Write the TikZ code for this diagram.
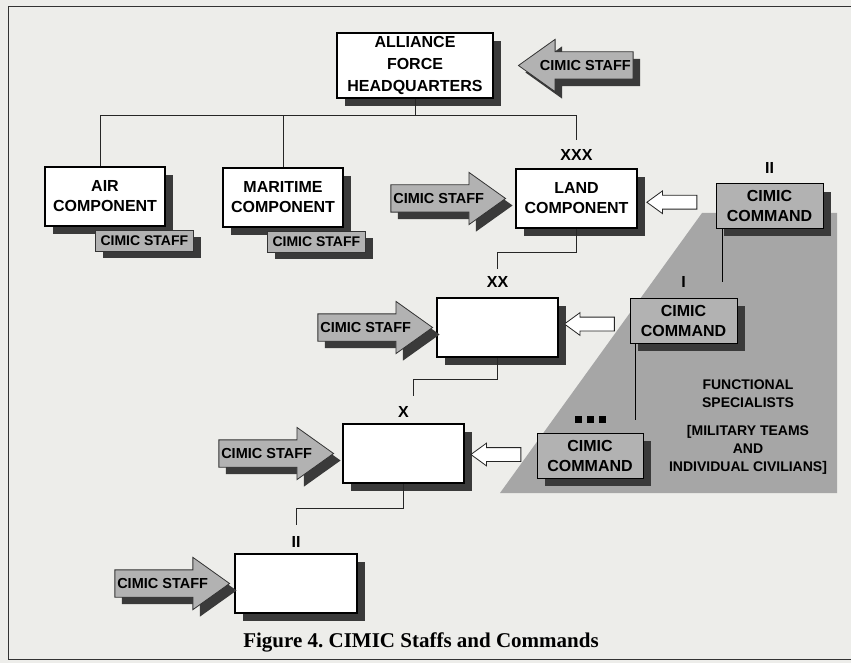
\documentclass[tikz,border=0pt]{standalone}
\usepackage{fontspec}
\setmainfont{Liberation Sans}
\newfontfamily\captionfont{Liberation Serif}
\usetikzlibrary{positioning,calc,shapes.arrows,shadows}
\definecolor{scanpaper}{RGB}{237,237,234}
\definecolor{cimicgray}{RGB}{178,178,178}
\definecolor{fieldgray}{RGB}{166,166,166}
\definecolor{shadowgray}{RGB}{58,58,58}

\begin{document}
\begin{tikzpicture}[x=1pt,y=-1pt,
    unitbox/.style={draw=black,line width=1.5pt,fill=white,minimum width=121pt,
      minimum height=59pt,align=center,inner sep=1pt,
      font=\bfseries\fontsize{16}{20}\selectfont,
      drop shadow={shadow xshift=8pt,shadow yshift=-8pt,fill=shadowgray,opacity=1}},
    cmdbox/.style={unitbox,fill=cimicgray,line width=1pt,minimum width=107pt,minimum height=45pt},
    stafftab/.style={draw=black!80,line width=0.8pt,fill=cimicgray,inner sep=0pt,
      minimum width=98pt,minimum height=21pt,font=\bfseries\fontsize{14}{16}\selectfont,
      drop shadow={shadow xshift=8pt,shadow yshift=-7pt,fill=shadowgray,opacity=1}},
    staffarrow/.style={single arrow,draw=black!80,line width=0.8pt,fill=cimicgray,
      font=\bfseries\fontsize{14.5}{16}\selectfont,text height=10.5pt,text depth=0pt,
      inner xsep=2pt,inner ysep=8pt,single arrow head extend=12.5pt,
      single arrow tip angle=71,
      drop shadow={shadow xshift=7pt,shadow yshift=-7pt,fill=shadowgray,opacity=1}},
    feedarrow/.style={single arrow,shape border rotate=180,draw=black!85,line width=0.8pt,
      fill=white,inner xsep=0pt,inner ysep=6.5pt,text height=0pt,text depth=0pt,
      minimum height=50pt,single arrow head extend=4.5pt,single arrow tip angle=72},
    echelon/.style={font=\bfseries\fontsize{16}{16}\selectfont,inner sep=1pt},
    link/.style={draw=black!85,line width=1pt},
    cmdlink/.style={draw=black,line width=1.8pt}]

  \useasboundingbox (0,0) rectangle (851,663);
  \fill[scanpaper] (0,0) rectangle (851,663);
  \draw[black!80,line width=1pt] (870,7) -- (8,7) -- (8,659) -- (870,659);

  % functional specialists field
  \fill[fieldgray] (702,213) -- (837,213) -- (837,493) -- (500,493) -- cycle;
  \node[align=center,font=\bfseries\fontsize{14}{18}\selectfont] (specialists) at (748,394)
    {FUNCTIONAL\\SPECIALISTS};
  \node[align=center,font=\bfseries\fontsize{14}{18}\selectfont] (teams) at (748,450)
    {[MILITARY TEAMS\\AND\\INDIVIDUAL CIVILIANS]};

  % components
  \node[unitbox,minimum width=156pt,minimum height=65pt,font=\bfseries\fontsize{16}{22}\selectfont]
    (hq) at (415,65.5) {ALLIANCE\\FORCE\\HEADQUARTERS};
  \node[unitbox,minimum width=120pt] (air) at (105,196.5) {AIR\\COMPONENT};
  \node[unitbox,minimum width=120pt] (mar) at (283,197.5) {MARITIME\\COMPONENT};
  \node[unitbox] (land) at (576.5,198.5) {LAND\\COMPONENT};
  \node[unitbox] (div) at (497.5,327.5) {};
  \node[unitbox] (bde) at (403.5,453.5) {};
  \node[unitbox,minimum width=122pt] (bn) at (296,583.5) {};

  \node[stafftab,anchor=north east] (airstaff) at ([xshift=28pt,yshift=-3pt]air.south east) {CIMIC STAFF};
  \node[stafftab,anchor=north east] (marstaff) at ([xshift=22pt,yshift=-3pt]mar.south east) {CIMIC STAFF};

  % cimic commands
  \node[cmdbox,minimum height=44pt] (cc2) at (769.5,206) {CIMIC\\COMMAND};
  \node[cmdbox] (cc1) at (683.5,320.5) {CIMIC\\COMMAND};
  \node[cmdbox,minimum width=106pt] (cc0) at (590,455.5) {CIMIC\\COMMAND};

  % echelons
  \node[echelon,above=7pt of land] (landech) {XXX};
  \node[echelon,above=9pt of div] (divech) {XX};
  \node[echelon,above=5pt of bde] (bdeech) {X};
  \node[echelon,above=5pt of bn] (bnech) {II};
  \node[echelon,above=9pt of cc2] (cc2ech) {II};
  \node[echelon,above=9pt of cc1] (cc1ech) {I};
  \node[echelon,above=8pt of cc0] (cc0ech)
    {\rule{7pt}{7pt}\hspace{5pt}\rule{7pt}{7pt}\hspace{5pt}\rule{7pt}{7pt}};

  % staff arrows
  \node[staffarrow,shape border rotate=180,anchor=tip] (hqstaff) at ([xshift=24pt]hq.east) {CIMIC STAFF};
  \node[staffarrow,anchor=tip] (landstaff) at ([xshift=-9pt]land.west) {CIMIC STAFF};
  \node[staffarrow,anchor=tip] (divstaff) at ([xshift=-3pt]div.west) {CIMIC STAFF};
  \node[staffarrow,anchor=tip] (bdestaff) at ([xshift=-8pt]bde.west) {CIMIC STAFF};
  \node[staffarrow,anchor=tip] (bnstaff) at ([xshift=-4pt]bn.west) {CIMIC STAFF};

  \node[feedarrow] (feed2) at ($(land.east)!0.5!(cc2.west)$) {};
  \node[feedarrow] (feed1) at ($(div.east)!0.5!(cc1.west)$) {};
  \node[feedarrow] (feed0) at ($(bde.east)!0.5!(cc0.west)$) {};

  % chain of command
  \coordinate (hqbus) at ($(hq.south)+(0,17)$);
  \draw[link] (hq.south) -- (hqbus);
  \draw[link] ([xshift=-5pt]air.north) |- (hqbus) -| ([yshift=8pt]landech.north);
  \draw[link] (mar.north) -- (mar.north |- hqbus);
  \draw[link] (land.south) -- ++(0,24) -| ([yshift=6pt]divech.north);
  \draw[link] (div.south) -- ++(0,22) -| ([xshift=10pt,yshift=9pt]bdeech.north);
  \draw[link] (bde.south) -- ++(0,25) -| ([yshift=10pt]bnech.north);

  \draw[cmdlink] ([xshift=7pt]cc2.south west) -- ([xshift=7pt]cc2.south west |- cc1ech.center);
  \draw[cmdlink] ([xshift=6pt]cc1.south west) -- ([xshift=6pt]cc1.south west |- cc0ech.center);

  \node[font=\captionfont\bfseries\fontsize{21}{24}\selectfont] (caption) at (421,642)
    {Figure 4.\ CIMIC Staffs and Commands};
\end{tikzpicture}
\end{document}
